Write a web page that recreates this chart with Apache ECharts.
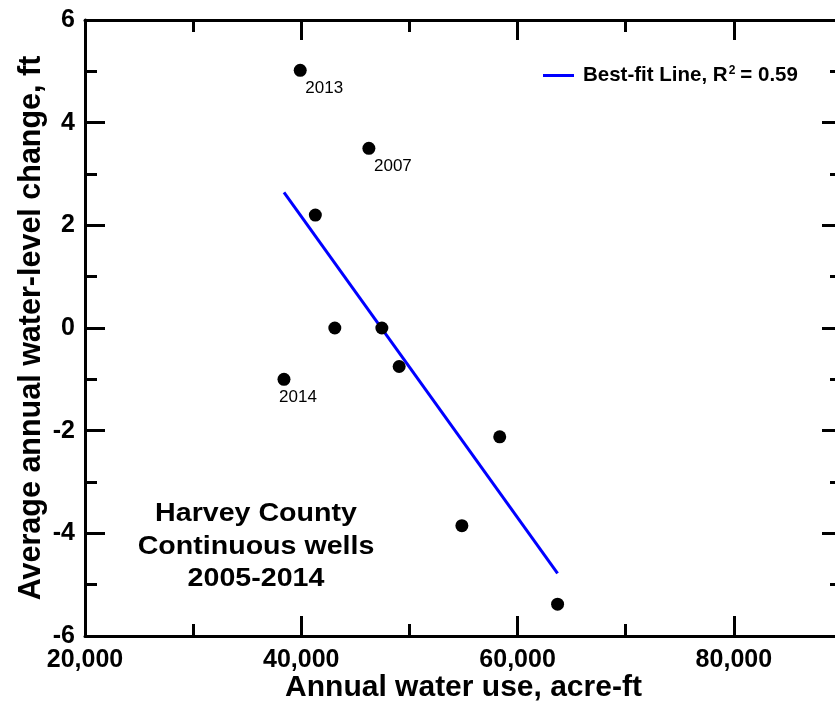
<!DOCTYPE html>
<html>
<head>
<meta charset="utf-8">
<title>Harvey County water use vs water-level change</title>
<script src="https://cdn.jsdelivr.net/npm/echarts@6/dist/echarts.min.js"></script>
<style>
  html, body { margin: 0; padding: 0; background: #fff; overflow: hidden; }
  #chart { width: 835px; height: 706px; }
</style>
</head>
<body>
<div id="chart"></div>
<script>
// Annual water use (acre-ft) and average annual water-level change (ft), one point per year
const waterUse    = [39900, 46250, 41300, 43100, 47450, 49050, 38400, 58350, 54850, 63700];
const levelChange = [5.02, 3.5, 2.2, 0.0, 0.0, -0.75, -1.0, -2.12, -3.85, -5.38];
const pointYears  = ['2013', '2007', '', '', '', '', '2014', '', '', ''];

// Best-fit line endpoints
const fitUse    = [38400, 63700];
const fitChange = [2.64, -4.78];

const fitLabel = 'Best-fit Line';
const rSquared = '0.59';

// Tick label values
const xTickValues = [20000, 40000, 60000, 80000];
const yTickValues = [-6, -4, -2, 0, 2, 4, 6];

const FONT = '"Liberation Sans", Arial, Helvetica, sans-serif';

// label offsets for the year annotations
const yearLabelOffset = { '2013': [24, 0], '2007': [24, 0], '2014': [14, 0] };

const scatterData = waterUse.map((x, i) => {
  const yr = pointYears[i];
  const item = { value: [x, levelChange[i]] };
  if (yr) {
    item.label = {
      show: true,
      formatter: yr,
      position: 'bottom',
      distance: 3,
      offset: yearLabelOffset[yr] || [0, 0],
      fontFamily: FONT,
      fontSize: 17,
      color: '#000'
    };
  }
  return item;
});

const fitData = fitUse.map((x, i) => [x, fitChange[i]]);

const withCommas = v => String(v).replace(/\B(?=(\d{3})+(?!\d))/g, ',');

const axisLineStyle = { color: '#000', width: 3 };
const majorTick = { show: true, inside: true, length: 20, lineStyle: { color: '#000', width: 3 } };
const minorTickX = { show: true, inside: true, length: 12, lineStyle: { color: '#000', width: 3 } };

const xRange = { type: 'value', min: 20000, max: 90000, gridIndex: 0 };
const yRange = { type: 'value', min: -6, max: 6, gridIndex: 0 };

const chart = echarts.init(document.getElementById('chart'), null, { renderer: 'canvas' });

chart.setOption({
  animation: false,
  backgroundColor: '#fff',
  // plot frame runs slightly past the right edge of the canvas
  grid: { left: 85, top: 20, width: 757, height: 616, containLabel: false, outerBoundsMode: 'none' },
  legend: {
    data: [{ name: fitLabel, icon: 'rect' }],
    left: 543,
    top: 65,
    padding: 0,
    itemWidth: 31,
    itemHeight: 3,
    formatter: name => name + ', R{sup|2}= ' + rSquared,
    textStyle: {
      fontFamily: FONT,
      fontSize: 20.5,
      fontWeight: 'bold',
      color: '#000',
      padding: [0, 0, 0, 4],
      rich: {
        sup: { fontFamily: FONT, fontSize: 12, fontWeight: 'bold', color: '#000', padding: [0, 5, 9, 1] }
      }
    }
  },
  xAxis: [
    Object.assign({}, xRange, {
      position: 'bottom',
      interval: 20000,
      axisLine: { show: true, onZero: false, lineStyle: axisLineStyle },
      axisTick: majorTick,
      axisLabel: {
        show: true,
        showMaxLabel: false,
        margin: 12,
        fontFamily: FONT,
        fontSize: 25,
        fontWeight: 'bold',
        color: '#000',
        formatter: v => (xTickValues.indexOf(v) >= 0 ? withCommas(v) : '')
      },
      splitLine: { show: false },
      name: 'Annual water use, acre-ft',
      nameLocation: 'middle',
      nameGap: 37,
      nameMoveOverlap: false,
      nameTextStyle: { fontFamily: FONT, fontSize: 30, fontWeight: 'bold', color: '#000' }
    }),
    Object.assign({}, xRange, {
      position: 'bottom',
      interval: 10000,
      axisLine: { show: false, onZero: false },
      axisTick: minorTickX,
      axisLabel: { show: false },
      splitLine: { show: false }
    }),
    Object.assign({}, xRange, {
      position: 'top',
      interval: 20000,
      axisLine: { show: true, onZero: false, lineStyle: axisLineStyle },
      axisTick: majorTick,
      axisLabel: { show: false },
      splitLine: { show: false }
    }),
    Object.assign({}, xRange, {
      position: 'top',
      interval: 10000,
      axisLine: { show: false, onZero: false },
      axisTick: minorTickX,
      axisLabel: { show: false },
      splitLine: { show: false }
    })
  ],
  yAxis: [
    Object.assign({}, yRange, {
      position: 'left',
      interval: 2,
      axisLine: { show: true, onZero: false, lineStyle: axisLineStyle },
      axisTick: majorTick,
      minorTick: { show: true, splitNumber: 2, length: 12, lineStyle: { color: '#000', width: 3 } },
      axisLabel: {
        show: true,
        margin: 10,
        fontFamily: FONT,
        fontSize: 25,
        fontWeight: 'bold',
        color: '#000',
        formatter: v => (yTickValues.indexOf(v) >= 0 ? String(v) : '')
      },
      splitLine: { show: false },
      minorSplitLine: { show: false },
      name: 'Average annual water-level change, ft',
      nameLocation: 'middle',
      nameRotate: 90,
      nameGap: 38,
      nameMoveOverlap: false,
      nameTextStyle: { fontFamily: FONT, fontSize: 30.5, fontWeight: 'bold', color: '#000' }
    }),
    Object.assign({}, yRange, {
      position: 'right',
      interval: 2,
      axisLine: { show: true, onZero: false, lineStyle: axisLineStyle },
      axisTick: majorTick,
      minorTick: { show: true, splitNumber: 2, length: 12, lineStyle: { color: '#000', width: 3 } },
      axisLabel: { show: false },
      splitLine: { show: false },
      minorSplitLine: { show: false }
    })
  ],
  graphic: [
    {
      type: 'text',
      x: 256,
      y: 498,
      scaleX: 1.1,
      style: {
        text: 'Harvey County\nContinuous wells\n2005-2014',
        fontFamily: FONT,
        fontSize: 26,
        fontWeight: 'bold',
        lineHeight: 32.5,
        fill: '#000',
        align: 'center',
        verticalAlign: 'top'
      },
      z: 1
    }
  ],
  series: [
    {
      name: fitLabel,
      type: 'line',
      xAxisIndex: 0,
      yAxisIndex: 0,
      data: fitData,
      symbol: 'none',
      lineStyle: { color: '#0000ff', width: 3 },
      itemStyle: { color: '#0000ff' },
      z: 2
    },
    {
      name: 'Annual points',
      type: 'scatter',
      xAxisIndex: 0,
      yAxisIndex: 0,
      data: scatterData,
      symbol: 'circle',
      symbolSize: 13,
      itemStyle: { color: '#000', opacity: 1 },
      z: 3
    }
  ]
});
</script>
</body>
</html>
